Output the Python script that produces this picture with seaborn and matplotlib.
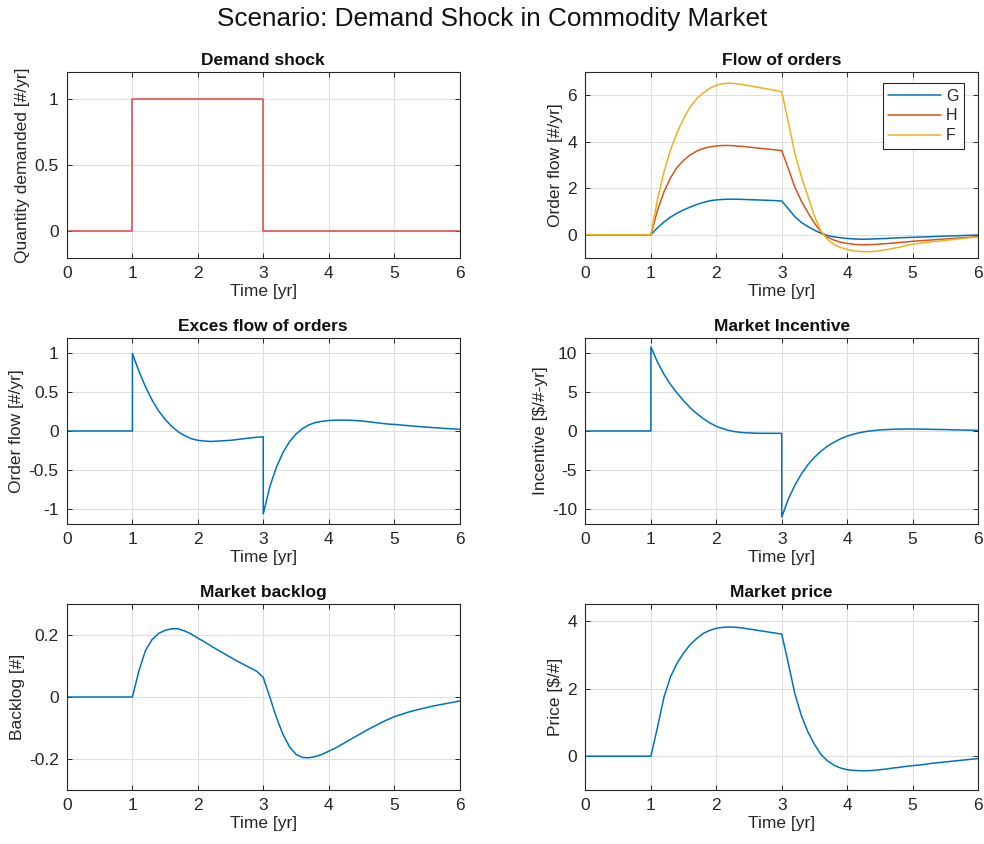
import numpy as np
import pandas as pd
import matplotlib
matplotlib.use("Agg")
import matplotlib.pyplot as plt
import seaborn as sns

# ---------------- data ----------------
time = np.round(np.arange(0, 6.01, 0.1), 1)          # 61 points, 0..6
# time grid with repeated instants at the jumps (t=1 and t=3)
time_jump = np.concatenate([time[:11], [1.0], time[11:31], [3.0], time[31:]])

demand_t = [0, 1, 1, 3, 3, 6]
demand_v = [0, 0, 1, 1, 0, 0]

zeros11 = [0.0] * 11

flow_G = zeros11 + [0.3, 0.55, 0.76, 0.93, 1.07, 1.19, 1.3, 1.39, 1.46, 1.5,
                    1.52, 1.53, 1.53, 1.52, 1.51, 1.5, 1.49, 1.48, 1.47, 1.45,
                    1.12, 0.78, 0.53, 0.35, 0.2, 0.06, -0.03, -0.09, -0.13, -0.16,
                    -0.18, -0.19, -0.19, -0.18, -0.17, -0.16, -0.14, -0.13, -0.12, -0.11,
                    -0.1, -0.09, -0.08, -0.07, -0.06, -0.05, -0.04, -0.03, -0.02, -0.01]
flow_H = zeros11 + [1.05, 1.85, 2.45, 2.9, 3.2, 3.43, 3.6, 3.71, 3.78, 3.82,
                    3.84, 3.84, 3.82, 3.8, 3.77, 3.74, 3.71, 3.68, 3.65, 3.62,
                    2.85, 2.05, 1.45, 0.95, 0.5, 0.12, -0.1, -0.23, -0.32, -0.37,
                    -0.41, -0.43, -0.43, -0.42, -0.4, -0.38, -0.36, -0.33, -0.31, -0.28,
                    -0.26, -0.24, -0.22, -0.2, -0.18, -0.16, -0.14, -0.12, -0.1, -0.08]
flow_F = zeros11 + [1.5, 2.7, 3.65, 4.4, 5.0, 5.5, 5.85, 6.1, 6.3, 6.43,
                    6.5, 6.52, 6.5, 6.46, 6.41, 6.36, 6.31, 6.26, 6.21, 6.15,
                    4.85, 3.5, 2.5, 1.65, 0.8, 0.15, -0.2, -0.42, -0.55, -0.63,
                    -0.69, -0.72, -0.73, -0.72, -0.68, -0.64, -0.59, -0.53, -0.47, -0.41,
                    -0.37, -0.33, -0.3, -0.27, -0.24, -0.21, -0.18, -0.15, -0.12, -0.1]

excess = zeros11 + [1.0,
                    0.77, 0.57, 0.4, 0.26, 0.15, 0.06, -0.01, -0.06, -0.1, -0.12,
                    -0.13, -0.135, -0.13, -0.125, -0.12, -0.11, -0.1, -0.09, -0.08, -0.075,
                    -1.07,
                    -0.72, -0.47, -0.28, -0.14, -0.04, 0.03, 0.08, 0.11, 0.125, 0.135,
                    0.14, 0.14, 0.14, 0.135, 0.13, 0.12, 0.11, 0.1, 0.09, 0.085,
                    0.078, 0.07, 0.063, 0.056, 0.05, 0.044, 0.038, 0.032, 0.027, 0.022]

incentive = zeros11 + [10.85,
                       8.9, 7.3, 6.0, 4.9, 3.9, 3.0, 2.25, 1.6, 1.05, 0.6,
                       0.3, 0.05, -0.1, -0.2, -0.25, -0.28, -0.3, -0.3, -0.3, -0.3,
                       -11.1,
                       -8.8, -7.0, -5.55, -4.35, -3.4, -2.6, -1.95, -1.45, -1.0, -0.65,
                       -0.4, -0.2, -0.05, 0.05, 0.13, 0.18, 0.22, 0.24, 0.25, 0.25,
                       0.24, 0.23, 0.21, 0.2, 0.18, 0.16, 0.14, 0.12, 0.1, 0.08]

backlog = zeros11 + [0.085, 0.15, 0.185, 0.205, 0.215, 0.22, 0.22, 0.213, 0.203, 0.19,
                     0.178, 0.165, 0.152, 0.14, 0.128, 0.116, 0.105, 0.094, 0.083, 0.063,
                     0.0, -0.065, -0.12, -0.16, -0.185, -0.195, -0.196, -0.192, -0.185, -0.175,
                     -0.165, -0.153, -0.141, -0.129, -0.117, -0.105, -0.094, -0.083, -0.073, -0.064,
                     -0.057, -0.05, -0.044, -0.039, -0.034, -0.029, -0.025, -0.021, -0.017, -0.013]

price = zeros11 + [0.85, 1.75, 2.35, 2.75, 3.05, 3.3, 3.48, 3.63, 3.72, 3.78,
                   3.81, 3.82, 3.81, 3.79, 3.76, 3.73, 3.7, 3.67, 3.64, 3.61,
                   2.75, 1.85, 1.2, 0.72, 0.35, 0.05, -0.14, -0.27, -0.35, -0.4,
                   -0.42, -0.43, -0.43, -0.42, -0.4, -0.38, -0.35, -0.33, -0.3, -0.28,
                   -0.26, -0.24, -0.21, -0.19, -0.17, -0.15, -0.13, -0.11, -0.09, -0.07]

series_names = ["G", "H", "F"]
x_ticks = [0, 1, 2, 3, 4, 5, 6]
yticks_demand = [0, 0.5, 1]
yticks_flow = [0, 2, 4, 6]
yticks_excess = [-1, -0.5, 0, 0.5, 1]
yticks_incentive = [-10, -5, 0, 5, 10]
yticks_backlog = [-0.2, 0, 0.2]
yticks_price = [0, 2, 4]

# ---------------- style ----------------
sns.set_style("white")
plt.rcParams.update({
    "font.family": ["Liberation Sans", "DejaVu Sans"],
    "axes.unicode_minus": False,
    "xtick.direction": "in",
    "ytick.direction": "in",
    "xtick.top": True,
    "ytick.right": True,
    "xtick.bottom": True,
    "ytick.left": True,
    "xtick.major.size": 3.5,
    "ytick.major.size": 3.5,
    "xtick.major.width": 0.7,
    "ytick.major.width": 0.7,
    "xtick.color": "#262626",
    "ytick.color": "#262626",
    "xtick.labelsize": 12.5,
    "ytick.labelsize": 12.5,
    "axes.edgecolor": "#262626",
    "axes.linewidth": 0.8,
    "axes.labelcolor": "#262626",
    "text.color": "#262626",
})

BLUE = "#0072BD"
ORANGE = "#D95319"
YELLOW = "#EDB120"
RED = "#E0474C"
LW = 1.1

fig, axes = plt.subplots(3, 2, figsize=(9.84, 8.44), dpi=100)
fig.subplots_adjust(left=67 / 984, right=978 / 984, top=1 - 72 / 844,
                    bottom=1 - 790 / 844, wspace=0.321, hspace=0.43)


def fmt(v):
    return "%g" % v


def style(ax, title, ylabel, ylim, yticks):
    ax.set_xlim(0, 6)
    ax.set_ylim(*ylim)
    ax.set_xticks(x_ticks)
    ax.set_xticklabels([fmt(v) for v in x_ticks])
    ax.set_yticks(yticks)
    ax.set_yticklabels([fmt(v) for v in yticks])
    ax.grid(True, color="#dedede", linewidth=0.8)
    ax.set_axisbelow(True)
    ax.set_title(title, fontsize=12.5, fontweight="bold", color="#111111", pad=5)
    ax.set_xlabel("Time [yr]", fontsize=12.5, labelpad=2)
    ax.set_ylabel(ylabel, fontsize=12.5, labelpad=3)
    for s in ax.spines.values():
        s.set_visible(True)
        s.set_color("#262626")
        s.set_linewidth(0.8)
    ax.tick_params(pad=6)


# Demand shock
ax = axes[0, 0]
sns.lineplot(x=demand_t, y=demand_v, ax=ax, color=RED, lw=LW,
             estimator=None, sort=False)
style(ax, "Demand shock", "Quantity demanded [#/yr]", (-0.2, 1.2), yticks_demand)

# Flow of orders
ax = axes[0, 1]
df_flow = pd.DataFrame({
    "t": np.concatenate([time] * 3),
    "v": np.concatenate([flow_G, flow_H, flow_F]),
    "s": np.repeat(series_names, len(time)),
})
sns.lineplot(data=df_flow, x="t", y="v", hue="s", hue_order=series_names,
             palette=[BLUE, ORANGE, YELLOW], ax=ax, lw=LW, estimator=None, sort=False)
style(ax, "Flow of orders", "Order flow [#/yr]", (-1, 7), yticks_flow)
leg = ax.legend(loc="upper right", bbox_to_anchor=((964 - 586) / 392, 1 - (83 - 72) / 186),
                borderaxespad=0, fontsize=11.5, frameon=True, fancybox=False,
                handlelength=3.3, handletextpad=0.3, labelspacing=0.3,
                borderpad=0.35, markerfirst=True)
leg.get_frame().set_edgecolor("#262626")
leg.get_frame().set_linewidth(0.8)
leg.get_frame().set_alpha(1)

# Excess flow
ax = axes[1, 0]
sns.lineplot(x=time_jump, y=excess, ax=ax, color=BLUE, lw=LW, estimator=None, sort=False)
style(ax, "Exces flow of orders", "Order flow [#/yr]", (-1.2, 1.2), yticks_excess)

# Market incentive
ax = axes[1, 1]
sns.lineplot(x=time_jump, y=incentive, ax=ax, color=BLUE, lw=LW, estimator=None, sort=False)
style(ax, "Market Incentive", "Incentive [$/#-yr]", (-12, 12), yticks_incentive)

# Market backlog
ax = axes[2, 0]
sns.lineplot(x=time, y=backlog, ax=ax, color=BLUE, lw=LW, estimator=None, sort=False)
style(ax, "Market backlog", "Backlog [#]", (-0.3, 0.3), yticks_backlog)

# Market price
ax = axes[2, 1]
sns.lineplot(x=time, y=price, ax=ax, color=BLUE, lw=LW, estimator=None, sort=False)
style(ax, "Market price", "Price [$/#]", (-1, 4.5), yticks_price)

fig.suptitle("Scenario: Demand Shock in Commodity Market", fontsize=18.8,
             y=1 - 19 / 844, va="center", color="#111111")

fig.savefig("out.png", dpi=100)
